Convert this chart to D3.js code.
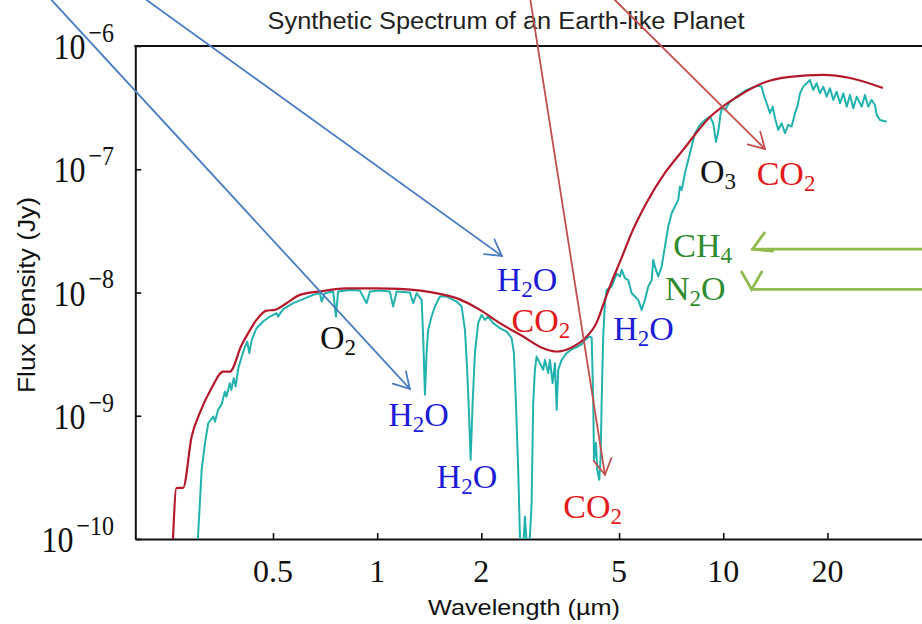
<!DOCTYPE html>
<html>
<head>
<meta charset="utf-8">
<script src="https://cdn.jsdelivr.net/npm/d3@7"></script>
<style>
  body { margin: 0; background: #fff; }
  svg { display: block; }
</style>
</head>
<body>
<svg width="922" height="624"></svg>
<script>
let width = 922;
let height = 624;
let plotLeft = 135.3, plotRight = 931.6, plotTop = 46, plotBottom = 539;

// smooth continuum (red envelope), wavelength in µm, flux in Jy
let envWave = [0.257, 0.263, 0.275, 0.291, 0.307, 0.332, 0.359, 0.375, 0.406, 0.424,
               0.448, 0.479, 0.506, 0.547, 0.598, 0.683, 0.816, 1.0, 1.163, 1.518,
               1.696, 1.981, 2.263, 2.642, 3.018, 3.301, 3.606, 3.939, 4.315, 4.551,
               4.769, 5.029, 5.483, 6.020, 6.784, 7.646, 9.155, 10.96, 13.02, 15.59,
               19.42, 23.24, 28.94];
let envFlux = [1.0e-10, 2.59e-10, 2.6e-10, 6.78e-10, 1.05e-9, 1.67e-9, 2.28e-9, 2.28e-9, 3.76e-9, 4.68e-9,
               6.0e-9, 7.13e-9, 7.23e-9, 8.19e-9, 9.57e-9, 1.02e-8, 1.08e-8, 1.08e-8, 1.07e-8, 9.75e-9,
               9.0e-9, 7.23e-9, 5.64e-9, 4.39e-9, 3.53e-9, 3.32e-9, 3.53e-9, 4.13e-9, 5.78e-9, 8.71e-9,
               1.24e-8, 1.77e-8, 3.22e-8, 5.43e-8, 9.33e-8, 1.43e-7, 2.65e-7, 3.86e-7, 5.01e-7, 5.61e-7,
               5.82e-7, 5.5e-7, 4.56e-7];

// synthetic spectrum with absorption bands (teal)
let specWave = [0.302, 0.311, 0.318, 0.325, 0.336, 0.340, 0.347, 0.355, 0.363, 0.367,
                0.375, 0.379, 0.385, 0.390, 0.396, 0.406, 0.415, 0.421, 0.427, 0.434,
                0.448, 0.468, 0.490, 0.512, 0.517, 0.535, 0.572, 0.611, 0.653, 0.683,
                0.691, 0.706, 0.746, 0.760, 0.771, 0.834, 0.891, 0.932, 0.953, 1.018,
                1.088, 1.112, 1.138, 1.243, 1.271, 1.300, 1.344, 1.358, 1.374, 1.389,
                1.404, 1.436, 1.468, 1.518, 1.587, 1.696, 1.754, 1.793, 1.820, 1.845,
                1.862, 1.887, 1.916, 1.958, 2.003, 2.048, 2.093, 2.164, 2.263, 2.366,
                2.446, 2.484, 2.517, 2.556, 2.585, 2.642, 2.672, 2.714, 2.763, 2.794,
                2.824, 2.856, 2.888, 2.952, 3.018, 3.052, 3.120, 3.156, 3.213, 3.264,
                3.301, 3.336, 3.412, 3.527, 3.646, 3.770, 3.897, 3.983, 4.100, 4.167,
                4.211, 4.231, 4.288, 4.324, 4.382, 4.423, 4.452, 4.499, 4.551, 4.603,
                4.759, 4.920, 5.029, 5.087, 5.199, 5.314, 5.437, 5.557, 5.680, 5.811,
                5.939, 6.071, 6.211, 6.277, 6.348, 6.489, 6.637, 6.784, 6.934, 7.094,
                7.251, 7.412, 7.497, 7.583, 7.751, 7.922, 8.104, 8.284, 8.565, 8.854,
                9.155, 9.357, 9.526, 9.672, 9.828, 9.961, 10.11, 10.46, 10.93, 11.68,
                12.35, 12.62, 12.91, 13.05, 13.35, 13.65, 13.90, 14.11, 14.42, 14.75,
                15.08, 15.41, 15.76, 16.12, 16.37, 16.67, 17.03, 17.42, 17.81, 18.20,
                18.62, 19.04, 19.45, 19.90, 20.34, 20.80, 21.27, 21.75, 22.23, 22.74,
                23.24, 23.76, 24.30, 25.12, 25.67, 26.25, 26.84, 27.44, 27.76, 28.38,
                29.67];
let specFlux = [8e-11, 3.64e-10, 6.0e-10, 8.71e-10, 9.86e-10, 8.97e-10, 1.12e-9, 1.23e-9, 1.57e-9, 1.43e-9,
                1.84e-9, 1.62e-9, 2.02e-9, 1.73e-9, 2.36e-9, 3.02e-9, 3.64e-9, 4.0e-9, 3.22e-9, 4.13e-9,
                5.13e-9, 5.81e-9, 6.38e-9, 6.79e-9, 6.38e-9, 7.33e-9, 8.19e-9, 8.83e-9, 9.57e-9, 9.87e-9,
                8.44e-9, 9.87e-9, 1.02e-8, 6.38e-9, 1.02e-8, 1.05e-8, 1.04e-8, 8.19e-9, 1.02e-8, 1.04e-8,
                1.02e-8, 7.69e-9, 1.02e-8, 9.98e-9, 8.19e-9, 9.87e-9, 8.71e-9, 4.39e-9, 1.48e-9, 3.22e-9,
                4.98e-9, 6.38e-9, 7.69e-9, 9.27e-9, 9.27e-9, 8.44e-9, 7.69e-9, 4.98e-9, 2.36e-9, 9.27e-10,
                4.39e-10, 1.27e-9, 3.22e-9, 5.64e-9, 6.58e-9, 6.0e-9, 6.38e-9, 5.64e-9, 5.13e-9, 4.82e-9,
                4.26e-9, 3.22e-9, 1.27e-9, 3.64e-10, 1.05e-10, 8e-11, 1.52e-10, 8e-11, 1.05e-10, 1.95e-10,
                1.27e-9, 2.36e-9, 3.02e-9, 2.67e-9, 2.36e-9, 2.84e-9, 2.22e-9, 2.84e-9, 1.84e-9, 2.67e-9,
                1.12e-9, 2.36e-9, 2.84e-9, 3.22e-9, 3.45e-9, 3.6e-9, 3.8e-9, 4.1e-9, 4.4e-9, 4.3e-9,
                1.27e-9, 4.39e-10, 6.0e-10, 3.64e-10, 3.02e-10, 4.67e-10, 1.27e-9, 4.39e-9, 8.19e-9, 1.05e-8,
                1.12e-8, 1.42e-8, 1.35e-8, 1.53e-8, 1.31e-8, 1.26e-8, 9.87e-9, 9.27e-9, 8.71e-9, 7.23e-9,
                8.71e-9, 1.12e-8, 1.26e-8, 1.84e-8, 1.62e-8, 1.35e-8, 1.62e-8, 2.36e-8, 3.42e-8, 4.40e-8,
                4.98e-8, 5.64e-8, 7.23e-8, 6.79e-8, 9.29e-8, 1.19e-7, 1.53e-7, 1.96e-7, 2.29e-7, 2.51e-7,
                2.67e-7, 2.36e-7, 1.67e-7, 2.02e-7, 2.85e-7, 3.22e-7, 3.03e-7, 3.53e-7, 3.88e-7, 4.40e-7,
                4.68e-7, 4.75e-7, 4.68e-7, 4.13e-7, 3.43e-7, 2.85e-7, 3.22e-7, 2.59e-7, 2.08e-7, 2.36e-7,
                1.96e-7, 2.29e-7, 2.22e-7, 2.85e-7, 3.22e-7, 4.13e-7, 4.68e-7, 4.98e-7, 5.30e-7, 4.40e-7,
                4.98e-7, 4.13e-7, 4.68e-7, 3.88e-7, 4.54e-7, 3.65e-7, 4.26e-7, 3.43e-7, 4.13e-7, 3.22e-7,
                4.0e-7, 3.12e-7, 3.88e-7, 3.22e-7, 4.0e-7, 3.22e-7, 3.65e-7, 3.32e-7, 2.76e-7, 2.51e-7,
                2.43e-7];

let xTicks = [0.5, 1, 2, 5, 10, 20];
let yExponents = [-10, -9, -8, -7, -6];

// molecule labels (left edge / baseline in data units)
let labelText = ['O2', 'H2O', 'CO2', 'H2O', 'H2O', 'CO2', 'H2O', 'N2O', 'CH4', 'O3', 'CO2'];
let labelWave = [0.683, 2.214, 2.446, 1.076, 1.485, 3.449, 4.810, 6.784, 7.172, 8.565, 12.49];
let labelFlux = [3.49e-9, 1.02e-8, 4.8e-9, 8.28e-10, 2.59e-10, 1.48e-10, 4.13e-9, 8.71e-9, 1.95e-8, 7.69e-8, 7.46e-8];
let labelKind = ['k', 'b', 'r', 'b', 'b', 'r', 'b', 'g', 'g', 'k', 'r'];

// overlay arrows: start and tip in data units
let arrowFromWave = [0.1146, 0.2156, 2.772, 4.864, 40, 40];
let arrowFromFlux = [2.36e-6, 2.36e-6, 2.36e-6, 2.36e-6, 2.25e-8, 1.06e-8];
let arrowToWave = [1.243, 2.293, 4.551, 13.20, 12.16, 12.08];
let arrowToFlux = [1.65e-9, 1.98e-8, 3.32e-10, 1.46e-7, 2.25e-8, 1.06e-8];
let arrowKind = ['b', 'b', 'r', 'r', 'g', 'g'];
let arrowHeadDir = [null, null, null, null, -24, -90];

let textColor = { k: '#111', b: '#1c1cd6', r: '#e31a1c', g: '#2e8b2e' };
let arrowColor = { b: '#4a7dc0', r: '#c0504d', g: '#8fbc4c' };
let arrowWidth = { b: 1.8, r: 1.8, g: 2.8 };

let x = d3.scaleLog().domain([0.2, 40]).range([plotLeft, plotRight]);
let y = d3.scaleLog().domain([1e-10, 1e-6]).range([plotBottom, plotTop]);

let svg = d3.select('svg').attr('width', width).attr('height', height);

svg.append('clipPath').attr('id', 'plot-clip')
  .append('rect')
    .attr('x', plotLeft).attr('y', plotTop)
    .attr('width', plotRight - plotLeft).attr('height', plotBottom - plotTop);

// title
svg.append('text')
    .attr('x', 506).attr('y', 29)
    .attr('text-anchor', 'middle')
    .attr('font-family', 'Liberation Sans, Arial, sans-serif')
    .attr('font-size', 23)
    .attr('fill', '#222')
    .attr('textLength', 477).attr('lengthAdjust', 'spacingAndGlyphs')
    .text('Synthetic Spectrum of an Earth-like Planet');

// axes and frame
svg.append('g')
    .attr('transform', `translate(0,${plotBottom})`)
    .call(d3.axisBottom(x).tickValues(xTicks).tickSizeInner(-6).tickSizeOuter(0).tickFormat(''));
svg.append('g')
    .attr('transform', `translate(${plotLeft},0)`)
    .call(d3.axisLeft(y).tickValues(yExponents.map(e => Math.pow(10, e))).tickSizeInner(-6).tickSizeOuter(0).tickFormat(''));
svg.selectAll('.domain').attr('stroke', '#111').attr('stroke-width', 2);
svg.selectAll('.tick line').attr('stroke', '#111').attr('stroke-width', 1.6);

svg.append('line')
    .attr('x1', plotLeft - 1).attr('x2', plotRight)
    .attr('y1', plotTop).attr('y2', plotTop)
    .attr('stroke', '#111').attr('stroke-width', 2);

// tick labels
svg.append('g').selectAll('text')
  .data(xTicks)
  .enter()
  .append('text')
    .attr('x', d => x(d))
    .attr('y', 582)
    .attr('text-anchor', 'middle')
    .attr('font-family', 'Liberation Serif, Times New Roman, serif')
    .attr('font-size', 32)
    .attr('fill', '#111')
    .text(d => d);

// y labels are a little taller than wide in the original
let yLabels = svg.append('g').selectAll('text')
  .data(yExponents)
  .enter()
  .append('text')
    .attr('transform', d => `translate(114,${y(Math.pow(10, d)) + 13}) scale(1,1.15)`)
    .attr('text-anchor', 'end')
    .attr('font-family', 'Liberation Serif, Times New Roman, serif')
    .attr('fill', '#111');
yLabels.append('tspan').attr('font-size', 32).text('10');
yLabels.append('tspan').attr('font-size', 24).attr('dy', -15).attr('dx', 3)
    .text(d => '\u2212' + Math.abs(d));

// axis titles
svg.append('text')
    .attr('x', 524).attr('y', 615)
    .attr('text-anchor', 'middle')
    .attr('font-family', 'Liberation Sans, Arial, sans-serif')
    .attr('font-size', 22)
    .attr('fill', '#111')
    .attr('textLength', 192).attr('lengthAdjust', 'spacingAndGlyphs')
    .text('Wavelength (µm)');

svg.append('text')
    .attr('transform', 'translate(35,295) rotate(-90)')
    .attr('text-anchor', 'middle')
    .attr('font-family', 'Liberation Sans, Arial, sans-serif')
    .attr('font-size', 23)
    .attr('fill', '#111')
    .attr('textLength', 196).attr('lengthAdjust', 'spacingAndGlyphs')
    .text('Flux Density (Jy)');

// curves
let plot = svg.append('g').attr('clip-path', 'url(#plot-clip)');

let envelope = envWave.map((w, i) => ({ w: w, f: envFlux[i] }));
let spectrum = specWave.map((w, i) => ({ w: w, f: specFlux[i] }));

plot.append('path')
    .datum(spectrum)
    .attr('fill', 'none')
    .attr('stroke', '#22b2ae')
    .attr('stroke-width', 2)
    .attr('stroke-linejoin', 'round')
    .attr('d', d3.line().x(d => x(d.w)).y(d => y(d.f)));

plot.append('path')
    .datum(envelope)
    .attr('fill', 'none')
    .attr('stroke', '#b3182b')
    .attr('stroke-width', 2.2)
    .attr('stroke-linejoin', 'round')
    .attr('d', d3.line().curve(d3.curveMonotoneX).x(d => x(d.w)).y(d => y(d.f)));

// molecule labels with subscripts
labelText.forEach((s, i) => {
  let t = svg.append('text')
      .attr('x', x(labelWave[i]))
      .attr('y', y(labelFlux[i]))
      .attr('font-family', 'Liberation Serif, Times New Roman, serif')
      .attr('font-size', 34)
      .attr('fill', textColor[labelKind[i]]);
  let prevSub = false;
  for (const ch of s) {
    let sub = /\d/.test(ch);
    let span = t.append('tspan').text(ch);
    if (sub) span.attr('font-size', 23).attr('dy', prevSub ? 0 : 6);
    else if (prevSub) span.attr('dy', -6);
    prevSub = sub;
  }
});

// arrows
let arrows = svg.append('g').attr('fill', 'none').attr('stroke-linecap', 'round');
arrowKind.forEach((k, i) => {
  let x1 = x(arrowFromWave[i]), y1 = y(arrowFromFlux[i]);
  let x2 = x(arrowToWave[i]), y2 = y(arrowToFlux[i]);
  let ang = arrowHeadDir[i] === null ? Math.atan2(y1 - y2, x1 - x2) : arrowHeadDir[i] * Math.PI / 180;
  let len = k === 'g' ? 20 : 18;
  let spread = Math.PI / 6;
  arrows.append('line')
      .attr('x1', x1).attr('y1', y1).attr('x2', x2).attr('y2', y2)
      .attr('stroke', arrowColor[k]).attr('stroke-width', arrowWidth[k]);
  arrows.append('path')
      .attr('d', d3.line()([
        [x2 + len * Math.cos(ang - spread), y2 + len * Math.sin(ang - spread)],
        [x2, y2],
        [x2 + len * Math.cos(ang + spread), y2 + len * Math.sin(ang + spread)]
      ]))
      .attr('stroke', arrowColor[k]).attr('stroke-width', arrowWidth[k])
      .attr('stroke-linejoin', 'miter');
});
</script>
</body>
</html>
